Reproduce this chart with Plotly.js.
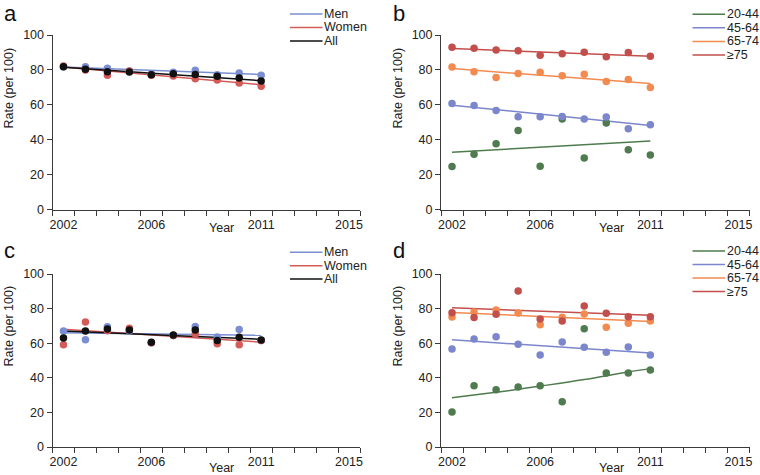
<!DOCTYPE html>
<html>
<head>
<meta charset="utf-8">
<script src="https://cdn.plot.ly/plotly-3.0.1.min.js"></script>
<style>html,body{margin:0;padding:0;background:#fff}#chart{width:760px;height:475px}</style>
</head>
<body>
<div id="chart"></div>
<script>
// ---------- data ----------
const years = [2002, 2003, 2004, 2005, 2006, 2007, 2008, 2009, 2010, 2011];
const axisYears = [2002, 2003, 2004, 2005, 2006, 2007, 2008, 2009, 2010, 2011, 2012, 2013, 2014, 2015];
const tickYears = [2002, 2006, 2011, 2015];
const tickLabels = ["2002", "2006", "2011", "2015"];
const yTicks = [0, 20, 40, 60, 80, 100];

const sexNames = ["Men", "Women", "All"];
const ageNames = ["20-44", "45-64", "65-74", "\u226575"];
const panelLabels = ["a", "b", "c", "d"];
const yTitle = "Rate (per 100)";
const xTitle = "Year";

// panel a
const aMen   = [81.8, 81.8, 81.0, 79.2, 77.6, 78.6, 79.8, 77.2, 78.2, 76.9];
const aWomen = [82.3, 79.9, 77.0, 79.3, 77.0, 76.5, 74.9, 74.2, 72.5, 70.7];
const aAll   = [81.8, 80.4, 78.9, 78.8, 77.2, 77.8, 77.4, 76.3, 75.3, 73.6];
// panel b
const b2044 = [24.6, 31.6, 37.7, 45.3, 24.8, 51.8, 29.5, 49.5, 34.3, 31.2];
const b4564 = [60.8, 59.6, 56.8, 53.1, 53.1, 53.3, 51.8, 53.0, 46.3, 48.6];
const b6574 = [81.7, 79.0, 75.6, 77.9, 78.7, 76.6, 77.5, 73.3, 74.5, 69.9];
const b75   = [93.0, 92.4, 91.4, 91.0, 88.4, 89.3, 90.1, 87.6, 89.9, 87.8];
// panel c
const cMen   = [67.1, 62.0, 69.5, 67.0, 60.2, 64.5, 69.7, 63.6, 67.9, 61.5];
const cWomen = [59.1, 72.3, 67.2, 68.6, 60.3, 64.5, 65.3, 59.7, 59.1, 61.5];
const cAll   = [63.0, 67.1, 68.2, 67.6, 60.5, 64.7, 67.6, 61.5, 63.4, 61.8];
// panel d
const d2044 = [20.2, 35.4, 33.1, 34.7, 35.4, 26.2, 68.4, 42.8, 42.8, 44.5];
const d4564 = [56.6, 62.4, 63.8, 59.4, 53.2, 60.7, 57.6, 54.7, 57.8, 53.2];
const d6574 = [75.1, 78.0, 79.2, 77.5, 70.7, 75.0, 76.9, 69.2, 71.5, 72.8];
const d75   = [77.6, 74.8, 76.7, 90.2, 74.0, 72.8, 81.5, 77.3, 75.3, 75.3];

// trend lines
const trendYears = [2002, 2011];
const aTrendMen = [81.6, 77.4], aTrendWomen = [81.6, 71.5], aTrendAll = [81.5, 73.8];
const bTrend2044 = [32.8, 39.2], bTrend4564 = [59.8, 48.2], bTrend6574 = [80.8, 72.2], bTrend75 = [92.3, 87.8];
const cTrendMen = [66.0, 64.6], cTrendWomen = [68.0, 60.6], cTrendAll = [67.1, 62.3];
const dTrendYears2044 = [2002, 2004, 2006, 2008, 2010, 2011];
const dTrend2044 = [28.5, 31.6, 35.2, 39.0, 43.4, 45.3];
const dTrend4564 = [62.0, 54.3], dTrend6574 = [77.8, 72.5], dTrend75 = [80.5, 76.1];

// ---------- styling ----------
const FONT = "Liberation Sans, Arial, sans-serif";
const sexColors = ["#7b8ed2", "#d35b58", "#111111"];
const ageColors = ["#4f7b4f", "#7b86cc", "#f38a50", "#c24f4c"];
const W = 760, H = 475;
const px = v => v / W;
const py = v => 1 - v / H;

const traces = [];
function addPanel(ax, names, colors, series, trends, trendXs) {
  const xa = "x" + (ax === 1 ? "" : ax), ya = "y" + (ax === 1 ? "" : ax);
  series.forEach((s, i) => {
    traces.push({type: "scatter", mode: "lines", x: trendXs[i], y: trends[i], xaxis: xa, yaxis: ya,
      line: {color: colors[i], width: 1.5, shape: trendXs[i].length > 2 ? "spline" : "linear"},
      showlegend: false, hoverinfo: "skip"});
  });
  series.forEach((s, i) => {
    traces.push({type: "scatter", mode: "markers", name: names[i], x: years, y: s, xaxis: xa, yaxis: ya,
      marker: {color: colors[i], size: 7.5, line: {width: 0}}, showlegend: false});
  });
}
addPanel(1, sexNames, sexColors, [aMen, aWomen, aAll], [aTrendMen, aTrendWomen, aTrendAll], [trendYears, trendYears, trendYears]);
addPanel(2, ageNames, ageColors, [b2044, b4564, b6574, b75], [bTrend2044, bTrend4564, bTrend6574, bTrend75], [trendYears, trendYears, trendYears, trendYears]);
addPanel(3, sexNames, sexColors, [cMen, cWomen, cAll], [cTrendMen, cTrendWomen, cTrendAll], [trendYears, trendYears, trendYears]);
addPanel(4, ageNames, ageColors, [d2044, d4564, d6574, d75], [dTrend2044, dTrend4564, dTrend6574, dTrend75], [dTrendYears2044, trendYears, trendYears, trendYears]);

const boundaries = axisYears.map(y => y - 0.5).concat([axisYears[axisYears.length - 1] + 0.5]);
const AX = "#3a3a3a";
function xAxis(domain, anchor) {
  return {domain: domain, anchor: anchor, range: [boundaries[0], boundaries[boundaries.length - 1]],
    tickmode: "array", tickvals: tickYears, ticktext: tickLabels, ticks: "outside", ticklen: 3,
    tickcolor: "rgba(0,0,0,0)", showgrid: false, zeroline: false, showline: true, linecolor: AX, linewidth: 1,
    tickfont: {family: FONT, size: 12.5, color: "#222"},
    minor: {tickmode: "array", tickvals: boundaries, ticks: "outside", ticklen: 5, tickcolor: AX, tickwidth: 1, showgrid: false},
    fixedrange: true};
}
function yAxis(domain, anchor) {
  return {domain: domain, anchor: anchor, range: [0, 100], tickmode: "array", tickvals: yTicks,
    ticks: "outside", ticklen: 5, tickcolor: AX, showgrid: false, zeroline: false, showline: true,
    linecolor: AX, linewidth: 1, tickfont: {family: FONT, size: 12.5, color: "#222"}, fixedrange: true};
}
const xdL = [px(52.5), px(360)], xdR = [px(441), px(749.5)];
const ydT = [py(209.5), py(35)], ydB = [py(447), py(274)];

const annotations = [], shapes = [];
const panels = [
  {lab: panelLabels[0], lx: 2, ly: 13.5, ytx: 8.5, yty: 88, xtx: 221, xty: 228, legX: 290, legY: [14, 27.5, 41], names: sexNames, colors: sexColors},
  {lab: panelLabels[1], lx: 391, ly: 13.5, ytx: 397.5, yty: 88, xtx: 611, xty: 228, legX: 692.5, legY: [14.3, 27.7, 41.5, 55], names: ageNames, colors: ageColors},
  {lab: panelLabels[2], lx: 2, ly: 250.5, ytx: 8.5, yty: 326, xtx: 221, xty: 468, legX: 290, legY: [252.3, 265.7, 279], names: sexNames, colors: sexColors},
  {lab: panelLabels[3], lx: 391, ly: 250.3, ytx: 397.5, yty: 326, xtx: 611, xty: 468, legX: 692.5, legY: [251, 264.6, 278, 291.5], names: ageNames, colors: ageColors}
];
panels.forEach(p => {
  annotations.push({xref: "paper", yref: "paper", x: px(p.lx), y: py(p.ly), xanchor: "left", yanchor: "middle",
    text: p.lab, showarrow: false, font: {family: FONT, size: 22, color: "#111"}});
  annotations.push({xref: "paper", yref: "paper", x: px(p.ytx), y: py(p.yty), xanchor: "center", yanchor: "middle",
    text: yTitle, textangle: -90, showarrow: false, font: {family: FONT, size: 12.5, color: "#222"}});
  annotations.push({xref: "paper", yref: "paper", x: px(p.xtx), y: py(p.xty), xanchor: "center", yanchor: "middle",
    text: xTitle, showarrow: false, font: {family: FONT, size: 12.5, color: "#222"}});
  p.names.forEach((n, i) => {
    shapes.push({type: "line", xref: "paper", yref: "paper", x0: px(p.legX), x1: px(p.legX + 32.5),
      y0: py(p.legY[i]), y1: py(p.legY[i]), line: {color: p.colors[i], width: 1.5}});
    annotations.push({xref: "paper", yref: "paper", x: px(p.legX + 32), y: py(p.legY[i]), xanchor: "left", yanchor: "middle",
      text: n, showarrow: false, font: {family: FONT, size: 12.5, color: "#222"}});
  });
});

const layout = {
  width: W, height: H, margin: {l: 0, r: 0, t: 0, b: 0}, paper_bgcolor: "#fff", plot_bgcolor: "#fff",
  showlegend: false, font: {family: FONT, size: 12.5, color: "#222"},
  xaxis: xAxis(xdL, "y"), yaxis: yAxis(ydT, "x"),
  xaxis2: xAxis(xdR, "y2"), yaxis2: yAxis(ydT, "x2"),
  xaxis3: xAxis(xdL, "y3"), yaxis3: yAxis(ydB, "x3"),
  xaxis4: xAxis(xdR, "y4"), yaxis4: yAxis(ydB, "x4"),
  annotations: annotations, shapes: shapes
};
Plotly.newPlot("chart", traces, layout, {staticPlot: true, displayModeBar: false});
</script>
</body>
</html>
